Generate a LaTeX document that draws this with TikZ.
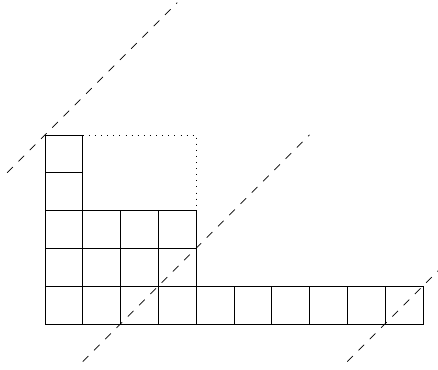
\documentclass[tikz,border=0pt]{standalone}
\begin{document}
\begin{tikzpicture}[
        cell/.style={draw, line width=0.5pt},
        diagline/.style={dash pattern=on 6pt off 6pt, line width=0.5pt},
        ghost/.style={dash pattern=on 0.6pt off 4pt, line width=0.6pt}]
        % 画布范围 (canvas)
        \useasboundingbox (-1.19,-1.22) rectangle (10.40,8.57);
        \clip (-1.19,-1.22) rectangle (10.40,8.57);

        % 第一行: 10 个方格
        \foreach \x in {0,...,9}
            \draw[cell] (\x,0) rectangle ++(1,1);
        % 第二、三行: 4 个方格
        \foreach \y in {1,2}
            \foreach \x in {0,...,3}
                \draw[cell] (\x,\y) rectangle ++(1,1);
        % 第四、五行: 1 个方格
        \foreach \y in {3,4}
            \draw[cell] (0,\y) rectangle ++(1,1);

        % 虚点框
        \coordinate (box_lt) at (1,5);
        \coordinate (box_rt) at (4,5);
        \coordinate (box_rb) at (4,3);
        \draw[ghost] (box_lt) -- (box_rt) -- (box_rb);

        % 对角虚线
        \coordinate (d1_bot) at (-1,4);
        \coordinate (d1_top) at (3.5,8.5);
        \draw[diagline] (d1_bot) -- (d1_top);
        \coordinate (d2_bot) at (1,-1);
        \coordinate (d2_top) at (7,5);
        \draw[diagline] (d2_bot) -- (d2_top);
        \coordinate (d3_bot) at (8,-1);
        \coordinate (d3_top) at (10.6,1.6);
        \draw[diagline] (d3_bot) -- (d3_top);
\end{tikzpicture}
\end{document}
